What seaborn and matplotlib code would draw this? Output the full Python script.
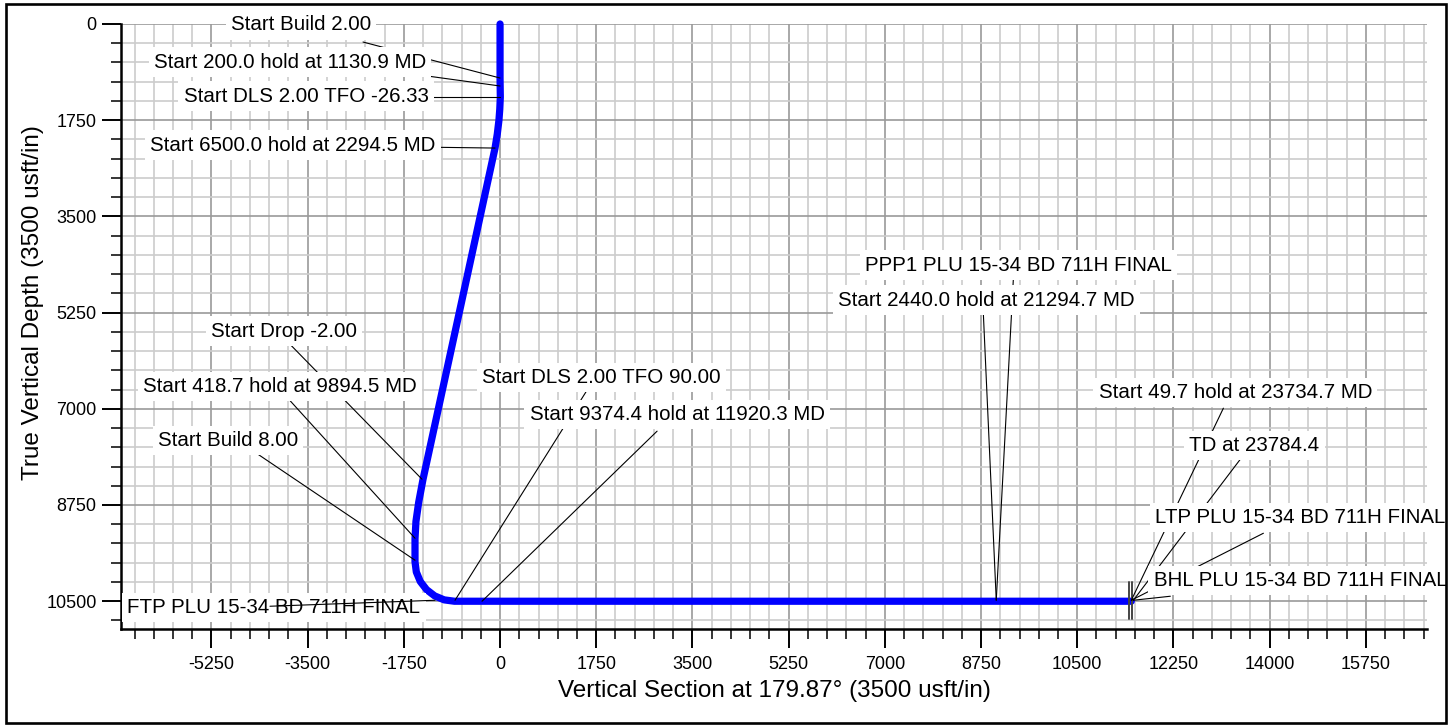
import matplotlib
matplotlib.use("Agg")
import matplotlib.pyplot as plt
from matplotlib.ticker import MultipleLocator
from matplotlib.patches import Rectangle
import pandas as pd
import seaborn as sns

# ------------------------------------------------------------------------------ #
# well path (vertical section vs. TVD, usft)
# ------------------------------------------------------------------------------ #
vs = [0, 0, 2, 5, -5, -20, -50, -91, -1401, -1480, -1530, -1547, -1547,
      -1523, -1451, -1337, -1189, -1016, -830, 11484]
tvd = [0, 983, 1128, 1329, 1550, 1750, 2000, 2257, 8281, 8700, 9050, 9365, 9784,
       9969, 10142, 10290, 10404, 10476, 10501, 10501]

# labels: text, label centre, leader start, leader target
labels = [
    "Start Build 2.00",
    "Start 200.0 hold at 1130.9 MD",
    "Start DLS 2.00 TFO -26.33",
    "Start 6500.0 hold at 2294.5 MD",
    "Start Drop -2.00",
    "Start 418.7 hold at 9894.5 MD",
    "Start Build 8.00",
    "FTP PLU 15-34 BD 711H FINAL",
    "Start DLS 2.00 TFO 90.00",
    "Start 9374.4 hold at 11920.3 MD",
    "PPP1 PLU 15-34 BD 711H FINAL",
    "Start 2440.0 hold at 21294.7 MD",
    "Start 49.7 hold at 23734.7 MD",
    "TD at 23784.4",
    "LTP PLU 15-34 BD 711H FINAL",
    "BHL PLU 15-34 BD 711H FINAL",
]
lab_x = [-3622, -3822, -3531, -3767, -3931, -4004, -4950, -4113,
         1838, 3221, 9428, 8845, 13377, 13723, 14560, 14560]
lab_y = [18, 692, 1310, 2202, 5587, 6588, 7571, 10611,
         6425, 7098, 4386, 5023, 6698, 7662, 8973, 10119]
lead_x0 = [-2493, -1456, -1820, -1456, -3895, -3895, -4514, -4186,
           1583, 2857, 9337, 8791, 13159, 13468, 13887, 12194]
lead_y0 = [328, 928, 1329, 2239, 5751, 6770, 7753, 10592,
           6661, 7407, 4659, 5242, 6989, 7917, 9264, 10410]
lead_x1 = [0, 0, 0, -91, -1420, -1547, -1547, -1183,
           -819, -328, 9027, 9027, 11484, 11521, 11484, 11521]
lead_y1 = [983, 1128, 1329, 2257, 8281, 9355, 9755, 10483,
           10483, 10501, 10483, 10483, 10483, 10483, 10483, 10483]

# end-of-lateral marker (two short vertical bars)
mark_x = [11448, 11502]
mark_y = [10156, 10829]

sns.set_theme(style="white")
plt.rcParams["font.family"] = ["Liberation Sans", "DejaVu Sans"]
plt.rcParams["axes.unicode_minus"] = False
plt.rcParams["text.color"] = "black"
plt.rcParams["axes.labelcolor"] = "black"
plt.rcParams["xtick.color"] = "black"
plt.rcParams["ytick.color"] = "black"

fig = plt.figure(figsize=(14.53, 7.27), dpi=100)
ax = fig.add_axes([0.0833, 0.1348, 0.8988, 0.8322])

df = pd.DataFrame({"vs": vs, "tvd": tvd})
sns.lineplot(data=df, x="vs", y="tvd", sort=False, estimator=None,
             color="#0000ff", lw=5.2, ax=ax, zorder=3)
well = ax.lines[-1]
well.set_solid_capstyle("round")
well.set_solid_joinstyle("round")
well.set_clip_on(False)

for mx in mark_x:
    ax.plot([mx, mx], mark_y, color="#444444", lw=1.4, zorder=3.5)

# leader lines, then label boxes on top
for i, txt in enumerate(labels):
    z = 6 if txt.startswith("FTP") else 4
    ax.plot([lead_x0[i], lead_x1[i]], [lead_y0[i], lead_y1[i]],
            color="black", lw=0.8, zorder=z, clip_on=False)
    ax.text(lab_x[i], lab_y[i], txt, ha="center", va="center", fontsize=14.8,
            zorder=5, bbox=dict(boxstyle="square,pad=0.25", fc="white", ec="none"))

ax.set_xlim(-6895, 16863)
ax.set_ylim(11006, 0)

ax.xaxis.set_major_locator(MultipleLocator(1750))
ax.xaxis.set_minor_locator(MultipleLocator(350))
ax.yaxis.set_major_locator(MultipleLocator(1750))
ax.yaxis.set_minor_locator(MultipleLocator(350))

ax.grid(which="major", color="#9a9a9a", lw=1.2, zorder=0)
ax.grid(which="minor", color="#cccccc", lw=1.2, zorder=0)
ax.set_axisbelow(True)

for s in ["top", "right"]:
    ax.spines[s].set_visible(False)
for s in ["left", "bottom"]:
    ax.spines[s].set_color("black")
    ax.spines[s].set_linewidth(1.8)

ax.tick_params(which="both", direction="out", color="black", labelcolor="black",
               left=True, bottom=True, labelsize=13)
ax.tick_params(which="major", length=14, width=1.4)
ax.tick_params(which="minor", length=7, width=1.1)
ax.tick_params(axis="y", which="major", pad=3.5)
ax.tick_params(axis="x", which="major", pad=5.5)

ax.set_xlabel("Vertical Section at 179.87° (3500 usft/in)", fontsize=17.5, color="black")
ax.set_ylabel("True Vertical Depth (3500 usft/in)", fontsize=17.5, color="black")
ax.xaxis.set_label_coords(0.5, -0.084)
ax.yaxis.set_label_coords(-0.059, 0.54)

# outer frame
fig.patches.append(Rectangle((0.0041, 0.0055), 0.991, 0.989, transform=fig.transFigure,
                             fill=False, ec="black", lw=1.9, zorder=0))

fig.savefig("out.png", dpi=100)
